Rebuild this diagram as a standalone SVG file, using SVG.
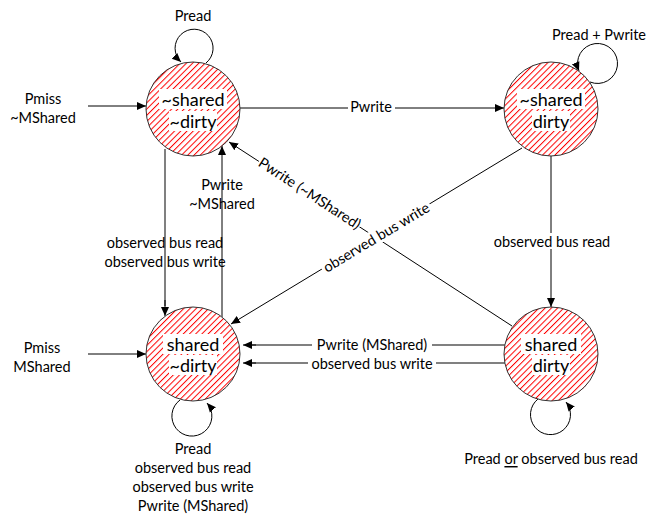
<svg xmlns="http://www.w3.org/2000/svg" width="656" height="524" viewBox="0 0 656 524">
<style>
text{font-family:Lato,"Open Sans","Liberation Sans",sans-serif;fill:#000;text-anchor:middle;dominant-baseline:central}
.lbl{font-size:14.5px}
.nt{font-size:18px}
.st{fill:none;stroke:#000;stroke-width:1}
.gr{fill:none;stroke:#808080;stroke-width:2}
.node{fill:url(#h);stroke:#333;stroke-width:1}
.bg{fill:#fff}
.hl{stroke:#ff0000;stroke-width:1}
</style>
<defs>
<pattern id="h" width="4.4" height="4.4" patternUnits="userSpaceOnUse" patternTransform="rotate(45)">
<rect width="4.4" height="4.4" fill="#fff"/>
<line class="hl" x1="0.5" y1="0" x2="0.5" y2="4.4"/>
</pattern>
<marker id="a" markerWidth="10" markerHeight="10" refX="9" refY="5" orient="auto" markerUnits="userSpaceOnUse">
<path d="M0,1 L9,5 L0,9 Z" fill="#000"/>
</marker>
</defs>

<g id="connectors">
<line class="st" x1="88" y1="106" x2="146" y2="106" marker-end="url(#a)"/>
<line class="st" x1="88" y1="354" x2="146" y2="354" marker-end="url(#a)"/>
<line class="st" x1="240" y1="108" x2="504" y2="108" marker-end="url(#a)"/>
<line class="gr" x1="165" y1="149" x2="165" y2="306"/>
<line class="st" x1="165" y1="300" x2="165" y2="316" marker-end="url(#a)"/>
<line class="st" x1="222" y1="317" x2="222" y2="146" marker-end="url(#a)"/>
<line class="st" x1="551" y1="156" x2="551" y2="307" marker-end="url(#a)"/>
<line class="st" x1="512" y1="326" x2="229" y2="142" marker-end="url(#a)"/>
<line class="st" x1="522" y1="148" x2="231" y2="324" marker-end="url(#a)"/>
<line class="gr" x1="505" y1="345" x2="252" y2="345"/>
<line class="st" x1="256" y1="345" x2="243" y2="345" marker-end="url(#a)"/>
<line class="gr" x1="505" y1="363" x2="252" y2="363"/>
<line class="st" x1="256" y1="363" x2="243" y2="363" marker-end="url(#a)"/>
<path class="st" d="M206,63 A19,19 0 1 0 181,62" marker-end="url(#a)"/>
<path class="st" d="M590,82 A20,20 0 1 0 579,71" marker-end="url(#a)"/>
<path class="st" d="M180,400 A20,20 0 1 0 207,403" marker-end="url(#a)"/>
<path class="st" d="M538,399 A20,20 0 1 0 566,402" marker-end="url(#a)"/>
</g>

<g id="edge-labels">
<text class="lbl" x="193" y="15">Pread</text>
<text class="lbl" x="599" y="34">Pread + Pwrite</text>
<text class="lbl" x="43" y="98">Pmiss</text>
<text class="lbl" x="43" y="117">~MShared</text>
<text class="lbl" x="42" y="347">Pmiss</text>
<text class="lbl" x="42" y="366">MShared</text>
<rect class="bg" x="348" y="99" width="47" height="16"/>
<text class="lbl" x="371" y="106">Pwrite</text>
<text class="lbl" x="165" y="242">observed bus read</text>
<text class="lbl" x="165" y="261">observed bus write</text>
<text class="lbl" x="222" y="184">Pwrite</text>
<text class="lbl" x="222" y="203">~MShared</text>
<rect class="bg" x="490" y="233" width="124" height="16"/>
<text class="lbl" x="552" y="241">observed bus read</text>
<g transform="translate(310,193) rotate(33)">
<rect class="bg" x="-60" y="-8" width="120" height="16"/>
<text class="lbl" x="0" y="0">Pwrite (~MShared)</text>
</g>
<g transform="translate(376,237) rotate(-31)">
<rect class="bg" x="-63" y="-8" width="126" height="16"/>
<text class="lbl" x="0" y="0">observed bus write</text>
</g>
<rect class="bg" x="312" y="338" width="120" height="14"/>
<text class="lbl" x="372" y="344">Pwrite (MShared)</text>
<rect class="bg" x="308" y="356" width="128" height="14"/>
<text class="lbl" x="372" y="363">observed bus write</text>
<text class="lbl" x="193" y="448">Pread</text>
<text class="lbl" x="193" y="467">observed bus read</text>
<text class="lbl" x="193" y="486">observed bus write</text>
<text class="lbl" x="193" y="505">Pwrite (MShared)</text>
<text class="lbl" x="551" y="458">Pread <tspan text-decoration="underline">or</tspan> observed bus read</text>
</g>

<g id="node-ns-nd">
<circle class="node" cx="193" cy="109" r="47"/>
<rect class="bg" x="159" y="89" width="68" height="20"/>
<rect class="bg" x="169" y="111" width="48" height="20"/>
<text class="nt" x="193" y="99">~shared</text>
<text class="nt" x="193" y="121">~dirty</text>
</g>
<g id="node-ns-d">
<circle class="node" cx="551" cy="109" r="47"/>
<rect class="bg" x="517" y="89" width="68" height="20"/>
<rect class="bg" x="532" y="111" width="38" height="20"/>
<text class="nt" x="551" y="99">~shared</text>
<text class="nt" x="551" y="121">dirty</text>
</g>
<g id="node-s-nd">
<circle class="node" cx="193" cy="354" r="47"/>
<rect class="bg" x="163" y="334" width="60" height="20"/>
<rect class="bg" x="169" y="355" width="48" height="20"/>
<text class="nt" x="193" y="344">shared</text>
<text class="nt" x="193" y="365">~dirty</text>
</g>
<g id="node-s-d">
<circle class="node" cx="551" cy="354" r="47"/>
<rect class="bg" x="521" y="334" width="60" height="20"/>
<rect class="bg" x="532" y="355" width="38" height="20"/>
<text class="nt" x="551" y="344">shared</text>
<text class="nt" x="551" y="365">dirty</text>
</g>
</svg>
